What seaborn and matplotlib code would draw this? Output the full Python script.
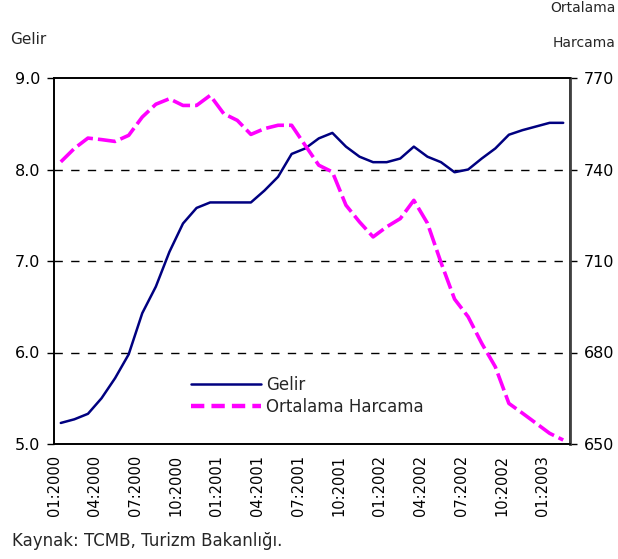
import matplotlib
matplotlib.use("Agg")
import matplotlib.pyplot as plt
import seaborn as sns
import pandas as pd
import numpy as np
from matplotlib.lines import Line2D

sns.set_theme(style="white")
plt.rcParams["font.family"] = ["DejaVu Sans"]

# Monthly series, 01:2000 - 02:2003
months = pd.period_range("2000-01", "2003-02", freq="M")
month_labels = [f"{p.month:02d}:{p.year}" for p in months]

gelir = [5.23, 5.27, 5.33, 5.50, 5.72, 5.98, 6.43, 6.72, 7.10, 7.41,
         7.58, 7.64, 7.64, 7.64, 7.64, 7.77, 7.92, 8.17, 8.23, 8.34,
         8.40, 8.25, 8.14, 8.08, 8.08, 8.12, 8.25, 8.14, 8.08, 7.97,
         8.00, 8.12, 8.23, 8.38, 8.43, 8.47, 8.51, 8.51]

ortalama_harcama = [742.5, 746.9, 750.3, 749.8, 749.2, 751.2, 757.2, 761.4, 763.2, 761.0,
                    761.0, 764.3, 758.3, 756.1, 751.5, 753.4, 754.5, 754.5, 747.9, 741.4,
                    739.2, 728.3, 722.8, 717.9, 721.2, 723.9, 729.9, 722.4, 709.5, 697.5,
                    691.7, 683.0, 675.3, 663.3, 660.1, 656.8, 653.5, 651.3]

left_ticks = [5.0, 6.0, 7.0, 8.0, 9.0]
right_ticks = [650, 680, 710, 740, 770]

df = pd.DataFrame({"idx": np.arange(len(months)), "Gelir": gelir,
                   "Ortalama Harcama": ortalama_harcama})

NAVY = "#000080"
MAGENTA = "#FF00FF"
DASH = (5, 1.4)

fig = plt.figure(figsize=(6.18, 5.59), dpi=100)
ax = fig.add_axes([54 / 618, 1 - 444 / 559, (570 - 54) / 618, (444 - 78) / 559])
ax2 = ax.twinx()

sns.lineplot(data=df, x="idx", y="Gelir", ax=ax, color=NAVY, lw=1.8, legend=False)
sns.lineplot(data=df, x="idx", y="Ortalama Harcama", ax=ax2, color=MAGENTA, lw=2.6,
             legend=False)
ax2.lines[0].set_dashes(DASH)

# Dashed horizontal gridlines on the inner ticks
for v in left_ticks[1:-1]:
    ax.axhline(v, color="black", lw=1.0, ls=(0, (6, 6)), zorder=0)

n = len(months)
ax.set_xlim(-0.5, n - 0.5)
ax.set_ylim(5.0, 9.0)
ax2.set_ylim(650, 770)

xt = np.arange(-0.5, n - 0.5, 3)
ax.set_xticks(xt)
ax.set_xticklabels([month_labels[int(t + 0.5)] for t in xt], rotation=90)
ax.set_yticks(left_ticks)
ax.set_yticklabels([f"{v:.1f}" for v in left_ticks])
ax2.set_yticks(right_ticks)
ax2.set_yticklabels([str(v) for v in right_ticks])

for a in (ax, ax2):
    a.set_xlabel("")
    a.set_ylabel("")
    a.tick_params(axis="both", which="both", direction="out", length=5, width=1,
                  colors="black", labelsize=10.5, pad=3)
    for s in a.spines.values():
        s.set_color("black")
        s.set_linewidth(1.2)
ax.tick_params(axis="y", pad=5, labelsize=11.5)
ax2.tick_params(axis="y", pad=5, labelsize=11.5)
ax2.spines["right"].set_color("#404040")
ax2.spines["right"].set_linewidth(2)

handles = [Line2D([], [], color=NAVY, lw=1.8),
           Line2D([], [], color=MAGENTA, lw=3.2, dashes=(3, 1.6))]
ax.legend(handles, ["Gelir", "Ortalama Harcama"], loc="upper left",
          bbox_to_anchor=(0.25, 0.208), frameon=False, fontsize=12,
          handlelength=4.2, handletextpad=0.3, labelspacing=0.2, borderpad=0)

fig.text(10 / 618, 1 - 40 / 559, "Gelir", fontsize=11, ha="left", va="center")
fig.text(616 / 618, 1 - 8 / 559, "Ortalama", fontsize=10, ha="right", va="center")
fig.text(616 / 618, 1 - 43 / 559, "Harcama", fontsize=10, ha="right", va="center")
fig.text(12 / 618, 1 - 541 / 559, "Kaynak: TCMB, Turizm Bakanlığı.", fontsize=12,
         ha="left", va="center")

fig.savefig("out.png", dpi=100)
